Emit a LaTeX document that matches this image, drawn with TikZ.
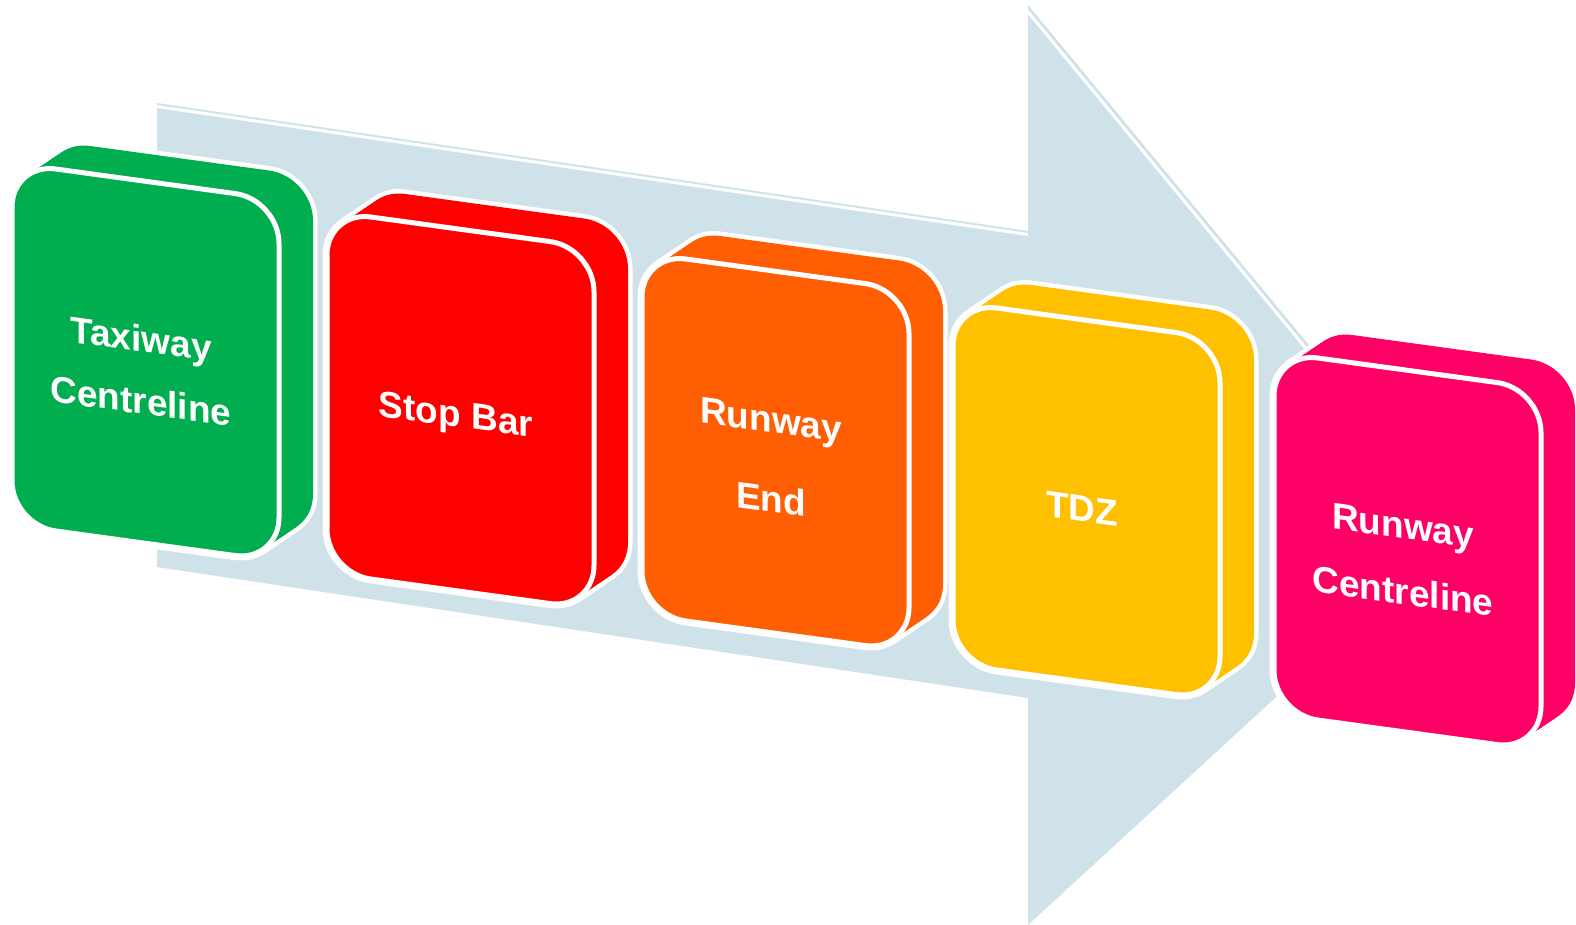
\documentclass[tikz,border=0pt]{standalone}
\usepackage{fontspec}
\setmainfont{Liberation Sans}
\usetikzlibrary{calc}
\definecolor{arrowblue}{RGB}{207,225,233}
\definecolor{cgreen}{RGB}{0,173,79}
\definecolor{cred}{RGB}{255,0,0}
\definecolor{corange}{RGB}{255,94,3}
\definecolor{cyellow}{RGB}{255,192,0}
\definecolor{cpink}{RGB}{255,0,102}
\tikzset{
  blockout/.style={draw=white, fill=white, line width=4.5pt, rounded corners=22pt},
  blockfill/.style={fill=#1, rounded corners=22pt},
  blockfront/.style={draw=white, fill=#1, line width=2.5pt, rounded corners=22pt},
  blocktext/.style={text=white, font=\bfseries\fontsize{18.5}{#1}\selectfont, align=center, transform shape, inner sep=0pt},
  arrowline/.style={draw=white, line width=1.5pt}
}
\newcommand\myblock[6]{%
\begin{scope}[shift={(#1,#2)}, cm={1,-0.137,0,1,(0,0)}]
  \foreach \i in {0,...,20}{
    \path[blockout] (34*\i/20,-27.7*\i/20) rectangle ++(267,362);
  }
  \foreach \i in {0,...,20}{
    \path[blockfill=#3] (34*\i/20,-27.7*\i/20) rectangle ++(267,362);
  }
  \path[blockfront=#3] (0,0) rectangle (267,362);
  \node[blocktext=#6] (#4) at (129,189) {#5};
\end{scope}}
\begin{document}
\begin{tikzpicture}[x=0.5pt,y=-0.5pt]
\useasboundingbox (0,0) rectangle (1576,925);
% big arrow
\coordinate (A) at (157,103);
\coordinate (B) at (1028,231);
\coordinate (C) at (1028,5);
\coordinate (T) at (1460,528);
\coordinate (D) at (1028,925);
\coordinate (E) at (1028,698);
\coordinate (F) at (157,567);
\fill[arrowblue] (A) -- (B) -- (C) -- (T) -- (D) -- (E) -- (F) -- cycle;
\begin{scope}
  \clip (A) -- (B) -- (C) -- (T) -- (D) -- (E) -- (F) -- cycle;
  \path[arrowline] ($(A)+(0,3.5)$) -- ($(B)+(0,3.5)$);
  \path[arrowline] ($(C)!2.2pt!-90:(T)$) -- ($(T)!2.2pt!90:(C)$);
\end{scope}
% blocks
\myblock{12}{163}{cgreen}{b1}{Taxiway\\Centreline}{31pt}
\myblock{327}{211}{cred}{b2}{Stop Bar}{31pt}
\myblock{642}{253}{corange}{b3}{Runway\\End}{40pt}
\myblock{953}{302}{cyellow}{b4}{TDZ}{31pt}
\myblock{1274}{352}{cpink}{b5}{Runway\\Centreline}{33pt}
\end{tikzpicture}
\end{document}
